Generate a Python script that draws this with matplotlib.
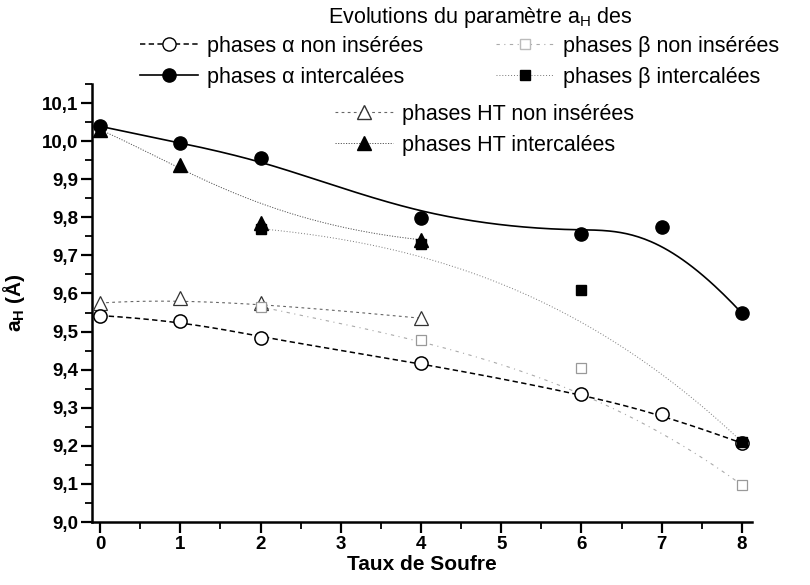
import numpy as np
import matplotlib
matplotlib.use("Agg")
import matplotlib.pyplot as plt
from matplotlib.lines import Line2D
from matplotlib.ticker import MultipleLocator, FuncFormatter

plt.rcParams['font.family'] = ['Liberation Sans', 'DejaVu Sans']

# ---- data ----
x_alpha = [0, 1, 2, 4, 6, 7, 8]
alpha_non = [9.542, 9.529, 9.484, 9.417, 9.336, 9.283, 9.207]
alpha_int = [10.039, 9.995, 9.956, 9.798, 9.756, 9.774, 9.548]
x_ht = [0, 1, 2, 4]
ht_non = [9.575, 9.588, 9.575, 9.535]
ht_int = [10.03, 9.938, 9.786, 9.741]
x_beta = [2, 4, 6, 8]
beta_non = [9.565, 9.477, 9.404, 9.097]
beta_int = [9.77, 9.73, 9.61, 9.21]

x_ticks = [0, 1, 2, 3, 4, 5, 6, 7, 8]
title_txt = "Evolutions du paramètre a$_{\\mathregular{H}}$ des"
labels = ["phases α non insérées", "phases α intercalées",
          "phases β non insérées", "phases β intercalées",
          "phases HT non insérées", "phases HT intercalées"]


def bspline(xs, ys, n=300):
    """Clamped B-spline using the data points as control points (Origin 'B-Spline' connection)."""
    P = np.column_stack([xs, ys]).astype(float)
    m = len(P)
    p = min(3, m - 1)
    inner = np.arange(1, m - p)
    knots = np.concatenate([np.zeros(p + 1), inner, np.full(p + 1, m - p)]).astype(float)
    ts = np.linspace(0, m - p, n)
    out = []
    for t in ts:
        if t >= knots[-1]:
            s = m - 1
        else:
            s = np.searchsorted(knots, t, side='right') - 1
        d = [P[j + s - p].copy() for j in range(p + 1)]
        for r in range(1, p + 1):
            for j in range(p, r - 1, -1):
                den = knots[j + 1 + s - r] - knots[j + s - p]
                a = (t - knots[j + s - p]) / den if den != 0 else 0.0
                d[j] = (1.0 - a) * d[j - 1] + a * d[j]
        out.append(d[p])
    return np.array(out)


W, H = 810, 585
fig = plt.figure(figsize=(8.1, 5.85), dpi=100)
ax_l, ax_r, ax_b, ax_t = 92, 752, 522, 84
ax = fig.add_axes([ax_l / W, 1 - ax_b / H, (ax_r - ax_l) / W, (ax_b - ax_t) / H])

ms_c = 9.5
ms_t = 9.5
ms_s = 7.5

st_an = dict(color='black', lw=1.1, ls=(0, (3.5, 2.2)))
st_ai = dict(color='black', lw=1.2, ls='-')
st_hn = dict(color='#666666', lw=0.8, ls=(0, (2.5, 3)))
st_hi = dict(color='#555555', lw=0.7, ls=(0, (1.2, 1.5)))
st_bn = dict(color='#aaaaaa', lw=0.8, ls=(0, (3, 4, 1, 4)))
st_bi = dict(color='#777777', lw=0.7, ls=(0, (1, 2)))

# alpha non inserees
c = bspline(x_alpha, alpha_non)
ax.plot(c[:, 0], c[:, 1], zorder=3, **st_an)
ax.plot(x_alpha, alpha_non, 'o', ms=ms_c, mfc='white', mec='black', mew=1.1, zorder=5)
# alpha intercalees
c = bspline(x_alpha, alpha_int)
ax.plot(c[:, 0], c[:, 1], zorder=3, **st_ai)
ax.plot(x_alpha, alpha_int, 'o', ms=ms_c, mfc='black', mec='black', zorder=5)
# HT non inserees
c = bspline(x_ht, ht_non)
ax.plot(c[:, 0], c[:, 1], zorder=2, **st_hn)
ax.plot(x_ht, ht_non, '^', ms=ms_t, mfc='white', mec='#333333', mew=0.9, zorder=4)
# HT intercalees
c = bspline(x_ht, ht_int)
ax.plot(c[:, 0], c[:, 1], zorder=2, **st_hi)
ax.plot(x_ht, ht_int, '^', ms=ms_t, mfc='black', mec='black', zorder=4)
# beta non inserees
c = bspline(x_beta, beta_non)
ax.plot(c[:, 0], c[:, 1], zorder=2, **st_bn)
ax.plot(x_beta, beta_non, 's', ms=ms_s, mfc='white', mec='#999999', mew=0.9, zorder=4)
# beta intercalees
c = bspline(x_beta, beta_int)
ax.plot(c[:, 0], c[:, 1], zorder=2, **st_bi)
ax.plot(x_beta, beta_int, 's', ms=ms_s, mfc='black', mec='black', zorder=6)

ax.set_xlim(-0.1, 8.125)
ax.set_ylim(9.0, 10.15)
ax.set_xticks(x_ticks)
ax.xaxis.set_minor_locator(MultipleLocator(0.5))
ax.yaxis.set_major_locator(MultipleLocator(0.1))
ax.yaxis.set_minor_locator(MultipleLocator(0.05))
ax.yaxis.set_major_formatter(FuncFormatter(lambda v, p: f"{v:.1f}".replace('.', ',')))
for s in ['top', 'right']:
    ax.spines[s].set_visible(False)
for s in ['left', 'bottom']:
    ax.spines[s].set_linewidth(1.8)
ax.tick_params(which='major', direction='out', length=8, width=1.6, labelsize=13.5, pad=2)
ax.tick_params(which='minor', direction='out', length=5, width=1.3)
for lab in ax.get_xticklabels() + ax.get_yticklabels():
    lab.set_fontweight('bold')
ax.set_xlabel("Taux de Soufre", fontsize=15, fontweight='bold')
ax.xaxis.set_label_coords(0.5, -0.075)
ax.set_ylabel("a$_{\\mathregular{H}}$ (Å)", fontsize=15, fontweight='bold')
ax.yaxis.set_label_coords((27 - ax_l) / (ax_r - ax_l), 0.5)

# legends
h_an = Line2D([], [], marker='o', ms=ms_c, mfc='white', mec='black', **st_an)
h_ai = Line2D([], [], marker='o', ms=ms_c, mfc='black', mec='black', **st_ai)
h_bn = Line2D([], [], marker='s', ms=ms_s, mfc='white', mec='#bbbbbb', **st_bn)
h_bi = Line2D([], [], marker='s', ms=ms_s, mfc='black', mec='black', **st_bi)
h_hn = Line2D([], [], marker='^', ms=ms_t, mfc='white', mec='#333333', **st_hn)
h_hi = Line2D([], [], marker='^', ms=ms_t, mfc='black', mec='black', **st_hi)

fs = 15.5
fig.text(480 / W, 1 - 17 / H, title_txt, ha='center', va='center', fontsize=fs)
leg1 = fig.legend([h_an, h_ai, h_bn, h_bi], labels[:4], ncol=2,
                  loc='upper left', bbox_to_anchor=(140 / W, 1 - 36 / H), frameon=False,
                  fontsize=fs, handlelength=2.7, handletextpad=0.4, columnspacing=3.4,
                  labelspacing=0.45, borderaxespad=0, borderpad=0)
leg2 = fig.legend([h_hn, h_hi], labels[4:], loc='upper left',
                  bbox_to_anchor=(335 / W, 1 - 104 / H), frameon=False,
                  fontsize=fs, handlelength=2.7, handletextpad=0.4,
                  labelspacing=0.45, borderaxespad=0, borderpad=0)

fig.savefig("out.png", dpi=100)
